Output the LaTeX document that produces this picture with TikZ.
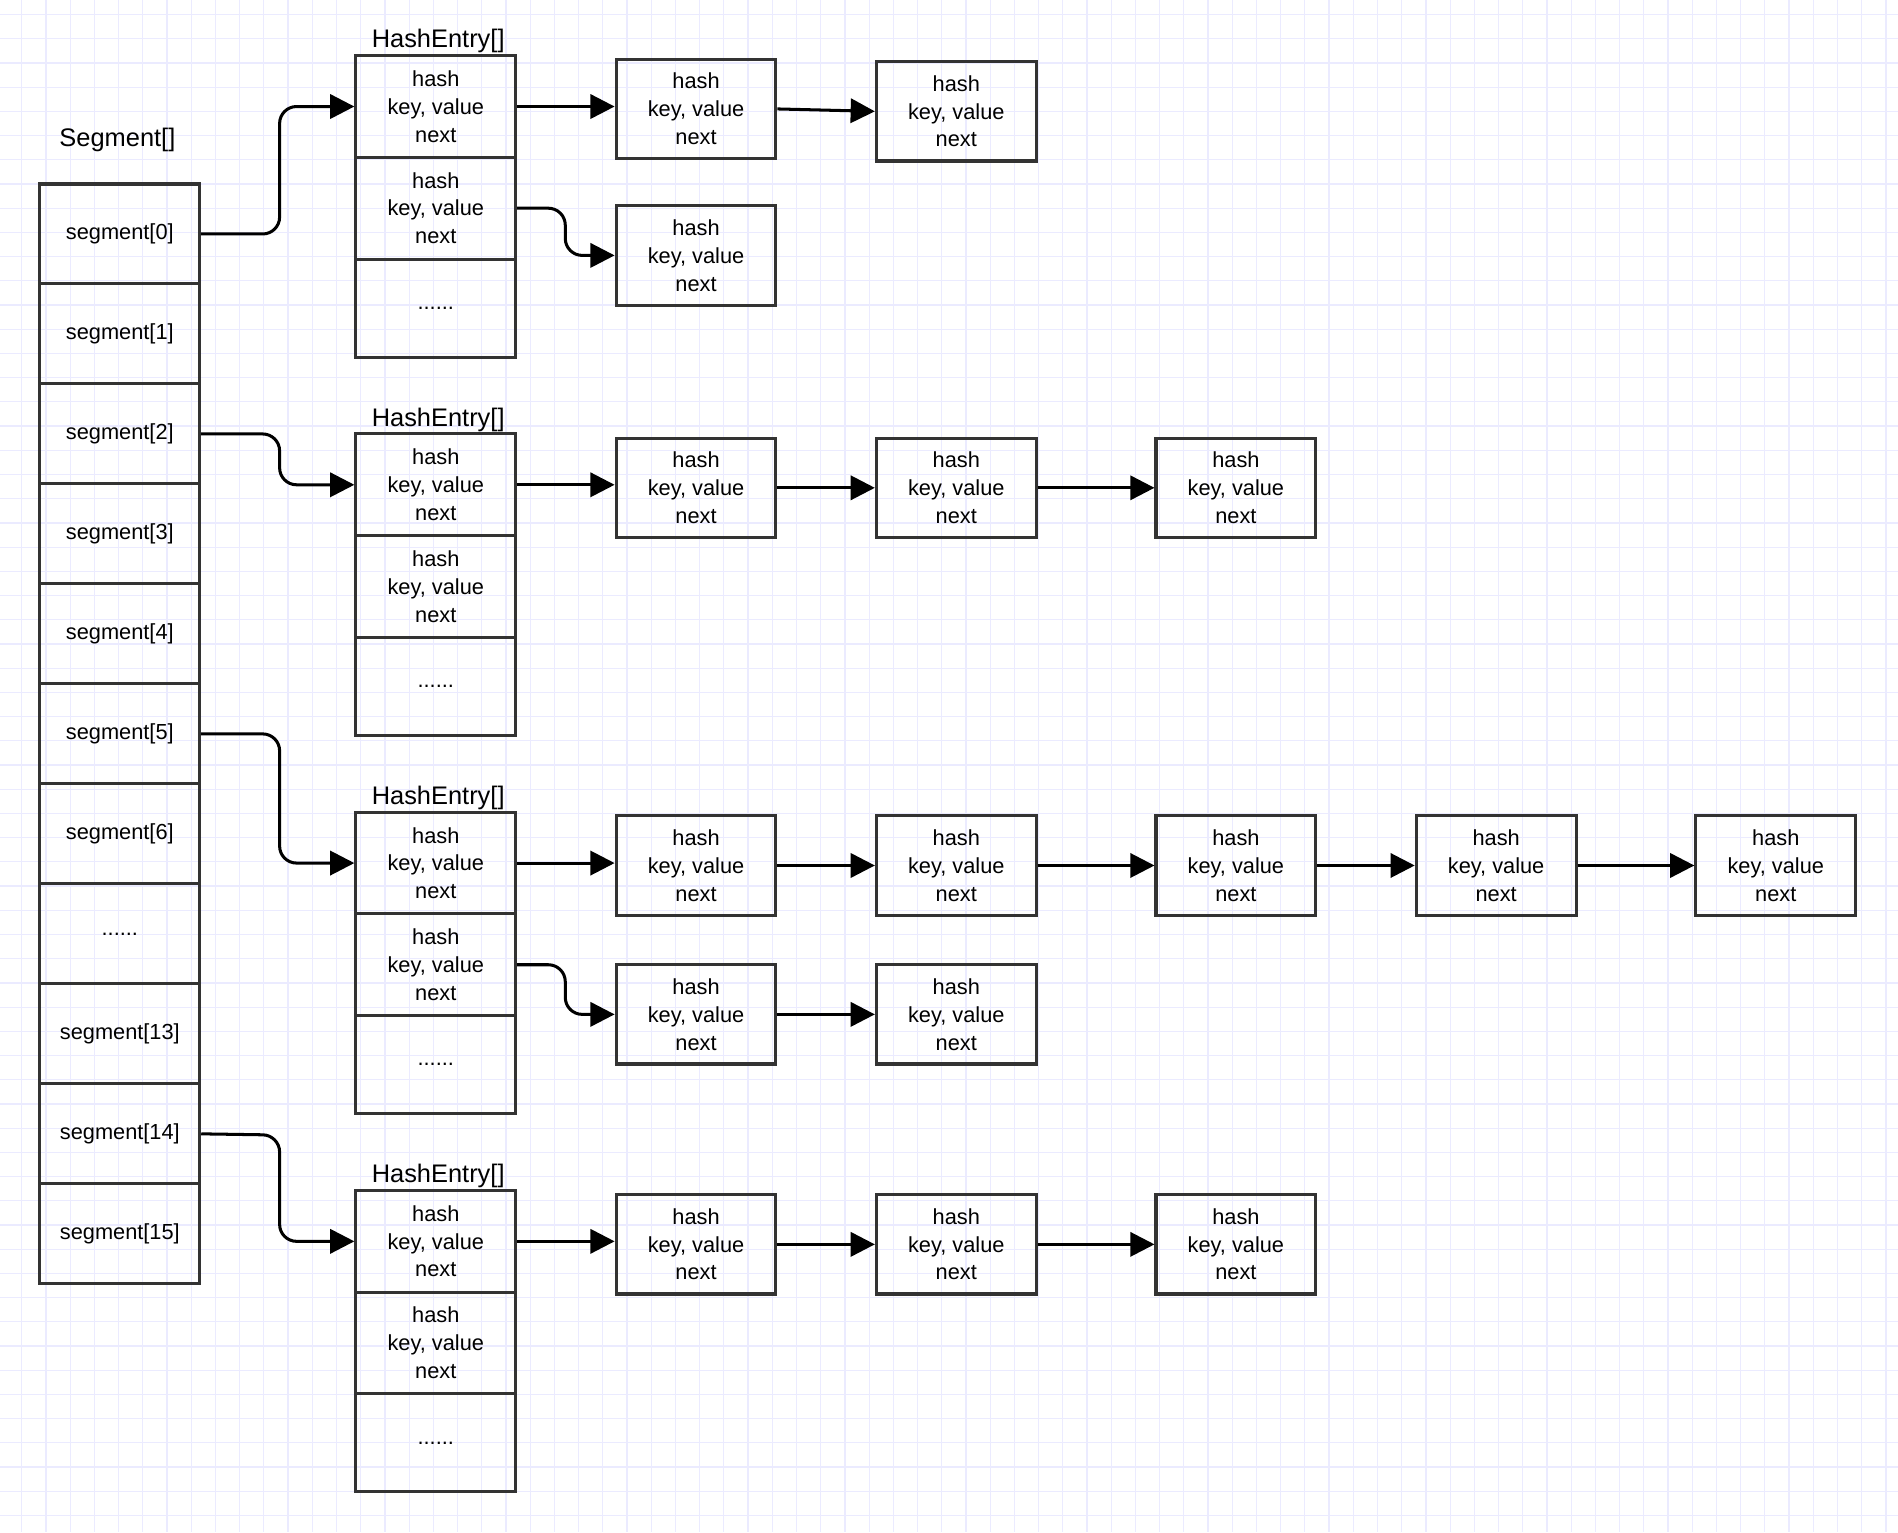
\documentclass[tikz,border=0pt]{standalone}
\usepackage{fontspec}
\setmainfont{Liberation Sans}
\usetikzlibrary{arrows.meta}
\newcommand{\sixdots}{......}
\begin{document}
\begin{tikzpicture}[x=1pt,y=-1pt,
  box/.style={draw=black!80,line width=2.5pt,minimum width=132pt,minimum height=82pt,inner sep=0pt,align=center,font=\fontsize{18}{23}\selectfont},
  seg/.style={draw=black!80,line width=2.5pt,minimum width=132pt,minimum height=82.6pt,inner sep=0pt,font=\fontsize{18}{23}\selectfont},
  cell/.style={draw=black!80,line width=2.5pt,minimum width=132pt,inner sep=0pt,align=center,font=\fontsize{18}{23}\selectfont},
  lbl/.style={font=\fontsize{21}{25}\selectfont,inner sep=0pt},
  arr/.style={line width=2.5pt,rounded corners=14pt,-{Triangle[length=20pt,width=20pt]}}]
\useasboundingbox (0,0) rectangle (1568,1266);
\fill[white] (0,0) rectangle (1568,1266);
\foreach \x in {18,38,...,1568} \draw[blue!8,line width=1pt] (\x,0) -- (\x,1266);
\foreach \y in {12,32,...,1266} \draw[blue!8,line width=1pt] (0,\y) -- (1568,\y);
\node[lbl] (seglbl) at (97,116) {Segment[]};
\foreach \t [count=\i from 0] in {segment[0],segment[1],segment[2],segment[3],segment[4],segment[5],segment[6],\sixdots,segment[13],segment[14],segment[15]}
  \node[seg] (s\i) at (99,{193.3+82.6*\i}) {\t};
\foreach \g/\top in {0/46,1/358.5,2/671,3/983.5}{
  \node[lbl] (hl\g) at (362,\top-12) {HashEntry[]};
  \node[cell,minimum height=84pt] (a\g) at (360,\top+42) {hash\\key, value\\next};
  \node[cell,minimum height=84pt] (b\g) at (360,\top+126) {hash\\key, value\\next};
  \node[cell,minimum height=81pt] (c\g) at (360,\top+208.5) {\sixdots};
}
\newcommand{\ent}[2]{\node[box] (#1) at (#2) {hash\\key, value\\next};}
\ent{e01}{575,90}\ent{e02}{790,92}\ent{e11}{575,211}
\ent{f01}{575,403}\ent{f02}{790,403}\ent{f03}{1021,403}
\ent{g01}{575,715}\ent{g02}{790,715}\ent{g03}{1021,715}\ent{g04}{1236,715}\ent{g05}{1467,715}
\ent{g11}{575,838}\ent{g12}{790,838}
\ent{h01}{575,1028}\ent{h02}{790,1028}\ent{h03}{1021,1028}
\draw[arr] (s0.east) -- (231,193.3) |- (a0.west);
\draw[arr] (s2.east) -- (231,358.5) |- (a1.west);
\draw[arr] (s5.east) -- (231,606.3) |- (a2.west);
\draw[arr] (s9.east) -- (231,937.7) |- (a3.west);
\draw[arr] (a0.east) -- (e01.west|-a0.east);
\draw[arr] (e01.east) -- (e02.west);
\draw[arr] (b0.east) -- (467,172) |- (e11.west);
\draw[arr] (a1.east) -- (f01.west|-a1.east);
\draw[arr] (f01) -- (f02); \draw[arr] (f02) -- (f03);
\draw[arr] (a2.east) -- (g01.west|-a2.east);
\draw[arr] (g01) -- (g02); \draw[arr] (g02) -- (g03); \draw[arr] (g03) -- (g04); \draw[arr] (g04) -- (g05);
\draw[arr] (b2.east) -- (467,797) |- (g11.west);
\draw[arr] (g11) -- (g12);
\draw[arr] (a3.east) -- (h01.west|-a3.east);
\draw[arr] (h01) -- (h02); \draw[arr] (h02) -- (h03);
\end{tikzpicture}
\end{document}
